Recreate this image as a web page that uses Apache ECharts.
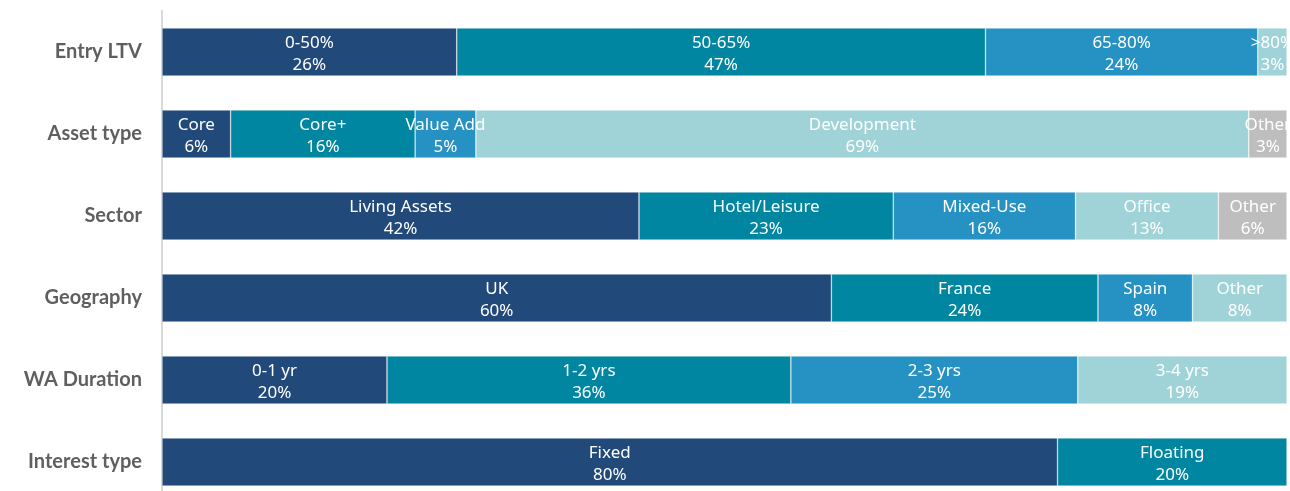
<!DOCTYPE html>
<html>
<head>
<meta charset="utf-8">
<script src="https://cdn.jsdelivr.net/npm/echarts@6/dist/echarts.min.js"></script>
<style>
  html, body { margin: 0; padding: 0; background: #fff; }
  #chart { width: 1290px; height: 491px; }
</style>
</head>
<body>
<div id="chart"></div>
<script>
// rows, top to bottom
const categories = ["Entry LTV", "Asset type", "Sector", "Geography", "WA Duration", "Interest type"];

// segment names per row
const entryNames = ["0-50%", "50-65%", "65-80%", ">80%"];
const assetNames = ["Core", "Core+", "Value Add", "Development", "Other"];
const sectorNames = ["Living Assets", "Hotel/Leisure", "Mixed-Use", "Office", "Other"];
const geoNames = ["UK", "France", "Spain", "Other"];
const durationNames = ["0-1 yr", "1-2 yrs", "2-3 yrs", "3-4 yrs"];
const interestNames = ["Fixed", "Floating"];

// segment shares (%)
const entryValues = [26.2, 47.0, 24.2, 2.6];
const assetValues = [6.1, 16.4, 5.4, 68.7, 3.4];
const sectorValues = [42.4, 22.6, 16.2, 12.7, 6.1];
const geoValues = [59.5, 23.7, 8.4, 8.4];
const durationValues = [20.0, 35.9, 25.5, 18.6];
const interestValues = [79.6, 20.4];

// printed percentages
const entryLabels = ["26%", "47%", "24%", "3%"];
const assetLabels = ["6%", "16%", "5%", "69%", "3%"];
const sectorLabels = ["42%", "23%", "16%", "13%", "6%"];
const geoLabels = ["60%", "24%", "8%", "8%"];
const durationLabels = ["20%", "36%", "25%", "19%"];
const interestLabels = ["80%", "20%"];

const rows = [
  [entryNames, entryValues, entryLabels],
  [assetNames, assetValues, assetLabels],
  [sectorNames, sectorValues, sectorLabels],
  [geoNames, geoValues, geoLabels],
  [durationNames, durationValues, durationLabels],
  [interestNames, interestValues, interestLabels]
];

const colors = ["#21497a", "#0086a0", "#2691c3", "#a0d3d7", "#bebebe"];

var chartDom = document.getElementById("chart");
var myChart = echarts.init(chartDom);

// one series per segment position, stacked
var series = [];
for (let pos = 0; pos < 5; pos++) {
  series.push({
    type: "bar",
    stack: "total",
    barWidth: 48,
    itemStyle: { color: colors[pos], borderColor: "rgba(255,255,255,0.6)", borderWidth: 0.6 },
    label: {
      show: true,
      position: "inside",
      offset: [0, 2],
      color: "#fff",
      fontFamily: "Noto Sans",
      fontSize: 17,
      lineHeight: 22,
      formatter: (p) => {
        const r = rows[p.dataIndex];
        return r[0][pos] + "\n" + r[2][pos];
      }
    },
    data: rows.map((r) => (r[1][pos] === undefined ? null : r[1][pos]))
  });
}

var option = {
  animation: false,
  grid: { left: 162, right: 3, top: 11, bottom: -12, outerBoundsMode: "none" },
  xAxis: {
    type: "value",
    min: 0,
    max: 100,
    show: false
  },
  yAxis: {
    type: "category",
    inverse: true,
    data: categories,
    axisLine: { show: true, lineStyle: { color: "#d9d9d9", width: 2 } },
    axisTick: { show: false },
    axisLabel: {
      color: "#5f5f5f",
      fontFamily: "Lato",
      fontWeight: "bold",
      fontSize: 20,
      margin: 20
    }
  },
  series: series
};

myChart.setOption(option);
</script>
</body>
</html>
